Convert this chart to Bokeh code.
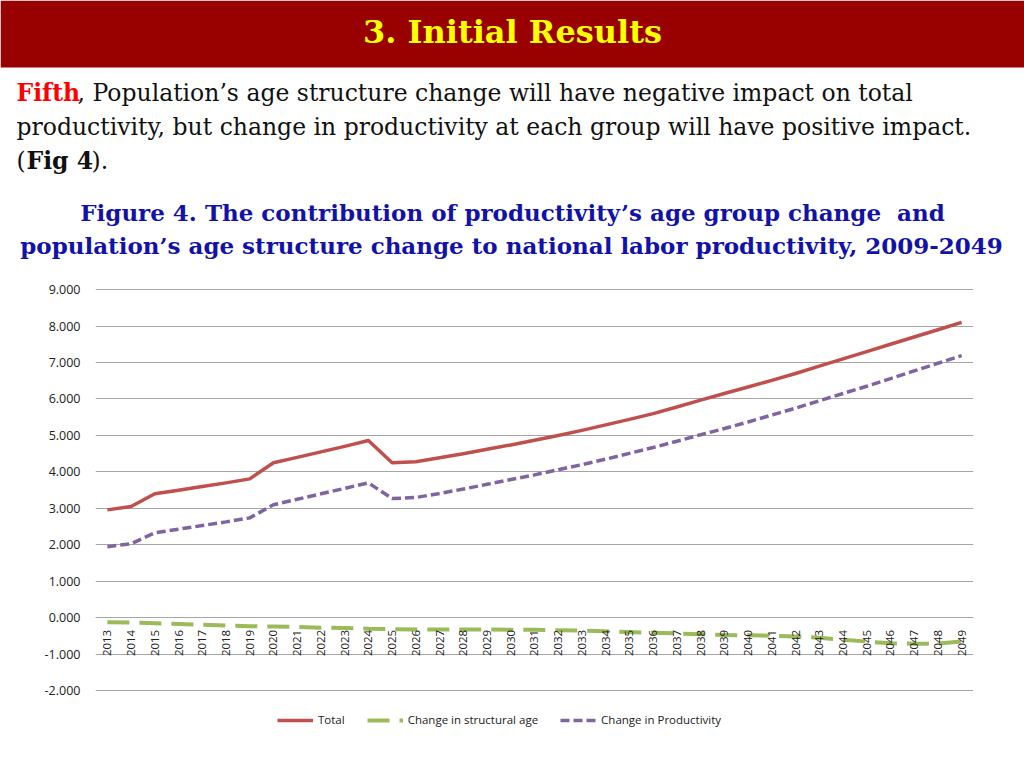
import math
from bokeh.plotting import figure
from bokeh.models import (FactorRange, Range1d, FixedTicker, NumeralTickFormatter,
                          Legend, LegendItem, ColumnDataSource)
from bokeh.core.properties import value
from bokeh.embed import file_html
from bokeh.resources import INLINE

# ---------------- data ----------------
years = [str(y) for y in range(2013, 2050)]

total = [2.96, 3.05, 3.40, 3.50, 3.60, 3.70, 3.81, 4.25, 4.40, 4.55, 4.70, 4.86,
         4.25, 4.28, 4.39, 4.50, 4.62, 4.74, 4.87, 5.00, 5.14, 5.29, 5.44, 5.60,
         5.78, 5.97, 6.15, 6.33, 6.51, 6.70, 6.90, 7.10, 7.30, 7.50, 7.70, 7.90, 8.10]

structural_age = [-0.12, -0.13, -0.15, -0.17, -0.19, -0.21, -0.23, -0.24, -0.25, -0.27,
                  -0.28, -0.30, -0.31, -0.32, -0.32, -0.32, -0.32, -0.33, -0.33, -0.34,
                  -0.35, -0.37, -0.39, -0.41, -0.43, -0.45, -0.47, -0.48, -0.49, -0.51,
                  -0.55, -0.60, -0.65, -0.70, -0.71, -0.71, -0.65]

productivity = [1.95, 2.03, 2.33, 2.43, 2.53, 2.63, 2.74, 3.10, 3.25, 3.40, 3.55, 3.70,
                3.27, 3.30, 3.41, 3.53, 3.66, 3.79, 3.92, 4.06, 4.20, 4.35, 4.51, 4.67,
                4.84, 5.02, 5.19, 5.37, 5.56, 5.75, 5.95, 6.15, 6.35, 6.56, 6.77, 6.98, 7.19]

y_ticks = [-2, -1, 0, 1, 2, 3, 4, 5, 6, 7, 8, 9]

series_names = ["Total", "Change in structural age", "Change in Productivity"]

SERIF = value("DejaVu Serif")
SANS = "Open Sans"

# ---------------- header (coordinates = page pixels) ----------------
W = 1024
HH = 270
hdr = figure(width=W, height=HH, x_range=Range1d(0, W), y_range=Range1d(HH, 0),
             output_backend="svg", toolbar_location=None, min_border=0)
hdr.axis.visible = False
hdr.grid.visible = False
hdr.outline_line_color = None
hdr.background_fill_color = "white"
hdr.border_fill_color = "white"

hdr.quad(left=[0], right=[W], top=[0], bottom=[67], fill_color="#990000", line_color=None)
hdr.text(x=[512], y=[31], text=["3. Initial Results"], text_font=SERIF,
         text_font_style="bold", text_font_size="32px", text_color="#FFFF00",
         text_align="center", text_baseline="middle")

body_size = "23.5px"
hdr.text(x=[16], y=[92], text=["Fifth"], text_font=SERIF, text_font_style="bold",
         text_font_size=body_size, text_color="#FF0000", text_baseline="middle")
hdr.text(x=[77], y=[92],
         text=[", Population\u2019s age structure change will have negative impact on total"],
         text_font=SERIF, text_font_size=body_size, text_color="#111111",
         text_baseline="middle")
hdr.text(x=[16], y=[126],
         text=["productivity, but change in productivity at each group will have positive impact."],
         text_font=SERIF, text_font_size=body_size, text_color="#111111",
         text_baseline="middle")
hdr.text(x=[16], y=[160], text=["("], text_font=SERIF, text_font_size=body_size,
         text_color="#111111", text_baseline="middle")
hdr.text(x=[26], y=[160], text=["Fig 4"], text_font=SERIF, text_font_style="bold",
         text_font_size=body_size, text_color="#111111", text_baseline="middle")
hdr.text(x=[91], y=[160], text=[")."], text_font=SERIF, text_font_size=body_size,
         text_color="#111111", text_baseline="middle")

cap_color = "#1212AA"
hdr.text(x=[512], y=[212],
         text=["Figure 4. The contribution of productivity\u2019s age group change\u00a0 and"],
         text_font=SERIF, text_font_style="bold", text_font_size="23px",
         text_color=cap_color, text_align="center", text_baseline="middle")
hdr.text(x=[511], y=[245],
         text=["population\u2019s age structure change to national labor productivity, 2009-2049"],
         text_font=SERIF, text_font_style="bold", text_font_size="23px",
         text_color=cap_color, text_align="center", text_baseline="middle")

# ---------------- chart ----------------
CH = 768 - HH
p = figure(width=W, height=CH, x_range=FactorRange(*years, range_padding=0),
           y_range=Range1d(-3.2, 9.03), output_backend="svg", toolbar_location=None,
           min_border_left=95, min_border_right=51, min_border_top=18,
           min_border_bottom=34)
p.outline_line_color = None
p.background_fill_color = "white"
p.border_fill_color = "white"

src = ColumnDataSource(dict(year=years, total=total, sa=structural_age, prod=productivity))

r_total = p.line("year", "total", source=src, line_color="#C0504D", line_width=3.5,
                 line_join="round")
r_sa = p.line("year", "sa", source=src, line_color="#9BBB59", line_width=4,
              line_dash="22 10")
r_prod = p.line("year", "prod", source=src, line_color="#8064A2", line_width=3.5,
                line_dash="9 4")

p.yaxis.ticker = FixedTicker(ticks=y_ticks)
p.yaxis.formatter = NumeralTickFormatter(format="0.000")
p.yaxis.axis_line_color = None
p.yaxis.major_tick_line_color = None
p.yaxis.minor_tick_line_color = None
p.yaxis.major_label_standoff = 9
p.yaxis.major_label_text_font = SANS
p.yaxis.major_label_text_font_size = "12.5px"
p.yaxis.major_label_text_color = "#222222"

p.ygrid.ticker = FixedTicker(ticks=y_ticks)
p.ygrid.grid_line_color = "#A6A6A6"
p.ygrid.grid_line_width = 1
p.xgrid.grid_line_color = None

p.xaxis.fixed_location = 0
p.xaxis.axis_line_color = "#A6A6A6"
p.xaxis.major_tick_line_color = None
p.xaxis.minor_tick_line_color = None
p.xaxis.major_label_orientation = math.pi / 2
p.xaxis.major_label_standoff = 6
p.xaxis.major_label_text_font = SANS
p.xaxis.major_label_text_font_size = "11.5px"
p.xaxis.major_label_text_color = "#222222"

legend = Legend(items=[LegendItem(label=series_names[0], renderers=[r_total]),
                       LegendItem(label=series_names[1], renderers=[r_sa]),
                       LegendItem(label=series_names[2], renderers=[r_prod])],
                location=(182, 7), orientation="horizontal",
                glyph_width=36, glyph_height=14, label_standoff=5, spacing=22,
                padding=0, margin=0, border_line_color=None,
                background_fill_alpha=0, label_text_font=SANS,
                label_text_font_size="11.5px", label_text_color="#222222",
                label_height=14)
p.add_layout(legend)

open("out.html", "w").write(file_html([hdr, p], INLINE))
